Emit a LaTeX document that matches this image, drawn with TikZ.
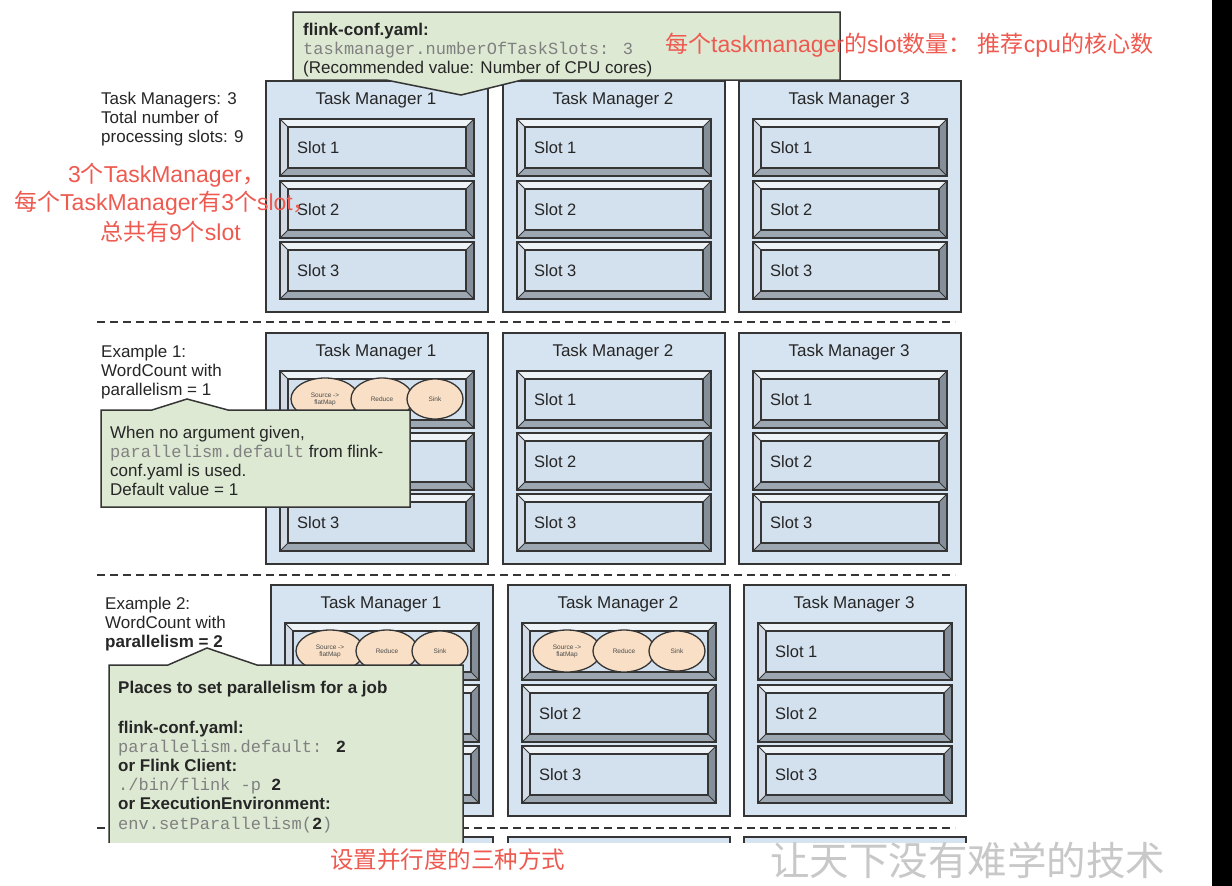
\documentclass[tikz,border=0pt]{standalone}
\usepackage{fontspec}
\setmainfont{Liberation Sans}
\newfontfamily\monofnt{Liberation Mono}
\newfontfamily\cjkfnt{Noto Sans CJK SC}
\newcommand{\cj}[1]{{\cjkfnt #1}}
\usetikzlibrary{shapes.geometric}
\definecolor{tmfill}{HTML}{D6E3F0}
\definecolor{darkedge}{HTML}{353535}
\definecolor{face}{HTML}{D3E0EE}
\definecolor{bevlight}{HTML}{EEF3F8}
\definecolor{bevmid}{HTML}{D2DBE5}
\definecolor{bevdark}{HTML}{858F9A}
\definecolor{bevbot}{HTML}{9DA7B2}
\definecolor{calloutfill}{HTML}{DDE9D3}
\definecolor{peach}{HTML}{F8DFC5}
\definecolor{redtxt}{HTML}{EE5A50}
\definecolor{codegray}{HTML}{808080}
\definecolor{wmgray}{HTML}{C8C8C8}
\definecolor{txtdark}{HTML}{262626}
\tikzset{
  tmbox/.style={draw=darkedge, line width=1.8pt, fill=tmfill, minimum width=222pt, minimum height=231pt, inner sep=0pt, anchor=north west},
  tmtitle/.style={font=\fontsize{17}{19}\selectfont, text=txtdark, inner sep=0pt},
  slotlbl/.style={font=\fontsize{16.5}{19}\selectfont, text=txtdark, inner sep=0pt},
  plaintext/.style={font=\fontsize{17}{19}\selectfont, text=txtdark, inner sep=0pt, align=left, anchor=north west},
  callout/.style={draw=darkedge, line width=1.5pt, fill=calloutfill, line join=miter},
  sepline/.style={draw=darkedge, line width=2.5pt, dash pattern=on 8pt off 5pt},
  opell/.style={ellipse, draw=darkedge, line width=1.3pt, fill=peach, inner sep=0pt, minimum height=42pt, font=\fontsize{6.5}{7}\selectfont, text=black!70, align=center},
  redcjk/.style={font=\fontsize{23}{27}\selectfont, text=redtxt, inner sep=0pt, anchor=west},
  pics/slotp/.style={code={
    \fill[bevlight] (0,0) -- (194,0) -- (186,8) -- (8,8) -- cycle;
    \fill[bevmid] (0,0) -- (8,8) -- (8,49) -- (0,57) -- cycle;
    \fill[bevdark] (194,0) -- (186,8) -- (186,49) -- (194,57) -- cycle;
    \fill[bevbot] (0,57) -- (8,49) -- (186,49) -- (194,57) -- cycle;
    \draw[darkedge, line width=0.8pt] (0,0) -- (8,8) (194,0) -- (186,8) (0,57) -- (8,49) (194,57) -- (186,49);
    \draw[draw=darkedge, line width=1.6pt, fill=face] (8,8) rectangle (186,49);
    \draw[draw=darkedge, line width=1.8pt] (0,0) rectangle (194,57);
    \node[slotlbl, anchor=west] (-lbl) at (17,29) {#1};
  }},
  pics/oprow/.style={code={
    \node[opell, minimum width=68pt] (-src) at (45,28) {Source ->\\flatMap};
    \node[opell, minimum width=62pt] (-red) at (102,28) {Reduce};
    \node[opell, minimum width=56pt, minimum height=40pt] (-snk) at (155,28) {Sink};
  }}
}
\begin{document}
\begin{tikzpicture}[x=1pt,y=-1pt]
\useasboundingbox (0,0) rectangle (1232,886);
\fill[white] (0,0) rectangle (1232,886);
\fill[black] (1212,0) rectangle (1232,886);

% task managers and slots
\foreach \sec/\yy/\xo in {1/80/0, 2/332/0, 3/584/5} {
  \foreach \t/\xx in {1/265, 2/502, 3/738} {
    \node[tmbox] (tm\sec\t) at (\xx+\xo, \yy) {};
    \node[tmtitle] (tt\sec\t) at (\xx+\xo+111, \yy+20) {Task Manager \t};
    \foreach \k/\dy in {1/39, 2/101, 3/162} {
      \def\lbl{Slot \k}
      \ifnum\sec\t\k=211 \def\lbl{}\fi
      \ifnum\sec\t\k=212 \def\lbl{}\fi
      \ifnum\sec\t\k=311 \def\lbl{}\fi
      \ifnum\sec\t\k=312 \def\lbl{}\fi
      \ifnum\sec\t\k=313 \def\lbl{}\fi
      \ifnum\sec\t\k=321 \def\lbl{}\fi
      \pic (sl\sec\t\k) at (\xx+\xo+15, \yy+\dy) {slotp=\lbl};
    }
  }
}
% fourth row, cut off at the bottom
\foreach \t/\xx in {1/270, 2/507, 3/743} {
  \node[tmbox, minimum height=20pt] (tm4\t) at (\xx, 836) {};
}
\pic (ops21) at (280,371) {oprow};
\pic (ops31) at (285,623) {oprow};
\pic (ops32) at (522,623) {oprow};

% separators
\draw[sepline] (97,322) -- (955,322);
\draw[sepline] (97,575) -- (955,575);
\draw[sepline] (97,828) -- (955,828);

% left texts
\node[plaintext] (info1) at (101,90.7) {\strut Task Managers: 3\\Total number of\\processing slots: 9};
\node[plaintext] (info2) at (101,343.7) {\strut Example 1:\\WordCount with\\parallelism = 1};
\node[plaintext] (info3) at (105,595.7) {\strut Example 2:\\WordCount with\\\textbf{parallelism = 2}};

% callout 1
\draw[callout] (293,12) -- (840,12) -- (840,80) -- (522,80) -- (461,95) -- (386,80) -- (293,80) -- cycle;
\node[plaintext] (c1) at (303,21.7) {\strut\textbf{flink-conf.yaml:}\\{\monofnt\color{codegray}taskmanager.numberOfTaskSlots: 3}\\(Recommended value: Number of CPU cores)};

% callout 2
\draw[callout] (101,410) -- (152,410) -- (187,399) -- (228,410) -- (410,410) -- (410,507) -- (101,507) -- cycle;
\node[plaintext] (c2) at (110,424.7) {\strut When no argument given,\\{\monofnt\color{codegray}parallelism.default} from flink-\\conf.yaml is used.\\Default value = 1};

% callout 3
\draw[callout] (109,665) -- (168,665) -- (207,648) -- (257,665) -- (463,665) -- (463,860) -- (109,860) -- cycle;
\node[plaintext, font=\fontsize{17}{19.2}\selectfont] (c3) at (118,679.7) {\strut\textbf{Places to set parallelism for a job}\\[20.5pt]\textbf{flink-conf.yaml:}\\{\monofnt\color{codegray}parallelism.default: }{\monofnt\bfseries 2}\\\textbf{or Flink Client:}\\{\monofnt\color{codegray}./bin/flink -p }{\monofnt\bfseries 2}\\\textbf{or ExecutionEnvironment:}\\{\monofnt\color{codegray}env.setParallelism(}{\monofnt\bfseries 2}{\monofnt\color{codegray})}};

% cut-off bottom
\fill[white] (0,843) rectangle (1212,886);

% red annotations
\node[redcjk] (r0) at (665,45) {\cj{每个}taskmanager\cj{的}slot\cj{数量：}\hspace{6pt}\cj{推荐}cpu\cj{的核心数}};
\node[redcjk] (r1) at (68,175) {3\cj{个}TaskManager\cj{，}};
\node[redcjk] (r2) at (14,203) {\cj{每个}TaskManager\cj{有}3\cj{个}slot\cj{，}};
\node[redcjk] (r3) at (100,232) {\cj{总共有}9\cj{个}slot};
\node[redcjk, font=\cjkfnt\fontsize{23.5}{27}\selectfont] (r4) at (330,860) {设置并行度的三种方式};
\node[font=\cjkfnt\fontsize{39.5}{42}\selectfont, text=wmgray, inner sep=0pt, anchor=west] (wm) at (770,860) {让天下没有难学的技术};
\end{tikzpicture}
\end{document}
